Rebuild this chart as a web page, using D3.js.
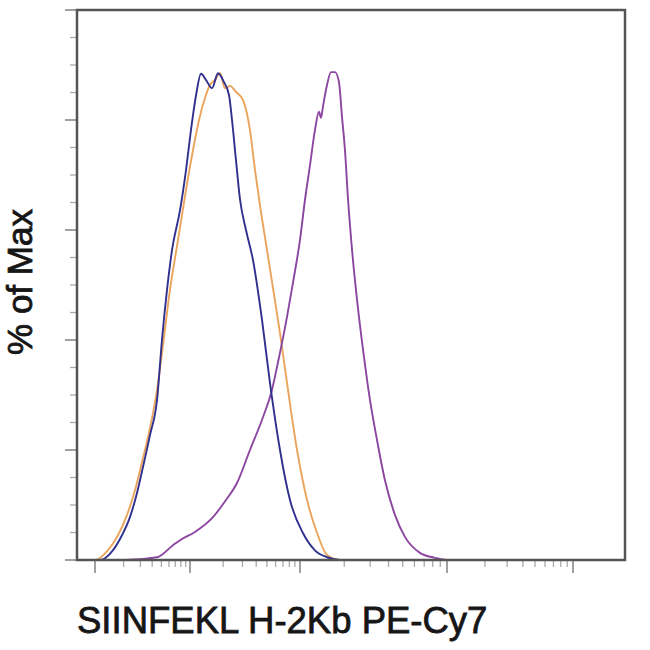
<!DOCTYPE html>
<html>
<head>
<meta charset="utf-8">
<script src="https://cdn.jsdelivr.net/npm/d3@7/dist/d3.min.js"></script>
<style>
  html, body { margin: 0; padding: 0; background: #fff; }
  svg { display: block; }
</style>
</head>
<body>
<svg id="chart" width="650" height="650"></svg>
<script>
// x values are in decade units of the biexponential axis (0 = zero, 1 = 10^3, 2 = 10^4, 3 = 10^5, -1 = -10^3)
// y values are % of Max
const blueX = [-1.19, -0.947, -0.81, -0.716, -0.632, -0.558, -0.495, -0.421, -0.347, -0.295, -0.242, -0.189, -0.105, -0.042, 0.009, 0.055, 0.1, 0.145, 0.2, 0.255, 0.309, 0.355, 0.382, 0.418, 0.455, 0.509, 0.573, 0.655, 0.727, 0.818, 0.909, 1.02, 1.10, 1.184, 1.272, 3.41];
const blueY = [0, 0, 1.8, 4.5, 7.8, 12.2, 16.9, 22.7, 29.1, 40.0, 49.1, 56.4, 63.6, 70.9, 78.2, 84.5, 88.4, 87.3, 85.8, 88.5, 86.9, 84.5, 80.0, 72.7, 65.5, 60.0, 54.5, 43.6, 32.2, 20.0, 10.9, 4.9, 1.8, 0.5, 0, 0];

const orangeX = [-1.19, -1.0, -0.863, -0.758, -0.663, -0.579, -0.505, -0.421, -0.347, -0.284, -0.211, -0.126, -0.042, 0.027, 0.082, 0.136, 0.182, 0.227, 0.273, 0.318, 0.364, 0.418, 0.482, 0.545, 0.591, 0.636, 0.7, 0.764, 0.818, 0.882, 0.973, 1.048, 1.116, 1.184, 1.272, 3.41];
const orangeY = [0, 0, 1.8, 4.5, 8.2, 12.7, 17.8, 24.0, 30.9, 39.1, 49.1, 58.2, 67.3, 74.5, 80.0, 84.0, 86.4, 87.3, 88.5, 85.8, 86.2, 85.1, 83.6, 78.2, 70.9, 64.5, 56.4, 48.2, 41.3, 32.2, 20.0, 10.9, 4.9, 0.9, 0, 0];

const purpleX = [-1.19, -0.684, -0.347, -0.179, -0.105, 0.045, 0.209, 0.327, 0.427, 0.545, 0.664, 0.745, 0.791, 0.882, 0.936, 1.0, 1.034, 1.068, 1.102, 1.129, 1.143, 1.156, 1.184, 1.211, 1.238, 1.265, 1.286, 1.306, 1.327, 1.354, 1.388, 1.429, 1.476, 1.524, 1.578, 1.646, 1.714, 1.816, 1.918, 2.0, 3.41];
const purpleY = [0, 0, 0.5, 2.7, 3.6, 5.1, 7.8, 10.9, 14.0, 20.0, 26.0, 30.9, 35.1, 44.2, 50.4, 58.2, 65.5, 71.8, 78.2, 81.5, 80.4, 82.4, 86.4, 88.7, 88.7, 86.9, 80.5, 74.5, 65.5, 56.4, 47.3, 38.2, 29.1, 21.8, 14.5, 8.2, 4.2, 1.3, 0.4, 0, 0];

const xMajorTicks = [-1, 0, 1, 2, 3];
const yMajorTicks = [0, 20, 40, 60, 80, 100];
const yMinorTicks = [5, 10, 15, 25, 30, 35, 45, 50, 55, 65, 70, 75, 85, 90, 95];
const minorMultipliers = [2, 3, 4, 5, 6, 7, 8, 9];

const xLabel = "SIINFEKL H-2Kb PE-Cy7";
const yLabel = "% of Max";

(function () {
const svg = d3.select("#chart");
const mLeft = 77, mRight = 625, mTop = 10, mBottom = 560;

// piecewise (biexponential-like) display scale
const x = d3.scaleLinear()
  .domain([-1.19, -1, 0, 1, 2, 3, 3.41])
  .range([mLeft, 95, 190, 300, 447, 573, mRight]);
const y = d3.scaleLinear().domain([0, 100]).range([mBottom, mTop]);

const xMinorTicks = [];
for (let k = -1; k <= 2; k++) {
  minorMultipliers.forEach(m => xMinorTicks.push(k + Math.log10(m)));
}

const tickColor = "#8a8a8a";
svg.append("g").selectAll("line").data(yMajorTicks).join("line")
  .attr("x1", mLeft - 12).attr("x2", mLeft)
  .attr("y1", d => y(d)).attr("y2", d => y(d))
  .attr("stroke", tickColor).attr("stroke-width", 1.6);
svg.append("g").selectAll("line").data(yMinorTicks).join("line")
  .attr("x1", mLeft - 7).attr("x2", mLeft)
  .attr("y1", d => y(d)).attr("y2", d => y(d))
  .attr("stroke", "#aaa").attr("stroke-width", 1.3);
svg.append("g").selectAll("line").data(xMajorTicks).join("line")
  .attr("x1", d => x(d)).attr("x2", d => x(d))
  .attr("y1", mBottom).attr("y2", mBottom + 13)
  .attr("stroke", tickColor).attr("stroke-width", 1.6);
svg.append("g").selectAll("line").data(xMinorTicks).join("line")
  .attr("x1", d => x(d)).attr("x2", d => x(d))
  .attr("y1", mBottom).attr("y2", mBottom + 7)
  .attr("stroke", "#aaa").attr("stroke-width", 1.3);

const series = [
  { xs: orangeX, ys: orangeY, color: "#eba45c" },
  { xs: purpleX, ys: purpleY, color: "#8b46a0" },
  { xs: blueX, ys: blueY, color: "#30308e" }
];
const line = d3.line()
  .x(d => x(d[0]))
  .y(d => y(d[1]))
  .curve(d3.curveMonotoneX);
svg.append("g").selectAll("path").data(series).join("path")
  .attr("d", s => line(s.xs.map((v, i) => [v, s.ys[i]])))
  .attr("fill", "none")
  .attr("stroke", s => s.color)
  .attr("stroke-width", 1.9)
  .attr("stroke-linejoin", "round");

svg.append("rect")
  .attr("x", mLeft).attr("y", mTop)
  .attr("width", mRight - mLeft).attr("height", mBottom - mTop)
  .attr("fill", "none").attr("stroke", "#555").attr("stroke-width", 2.5);

svg.append("text")
  .attr("x", 77).attr("y", 633)
  .attr("font-family", "Liberation Sans, Arial, sans-serif")
  .attr("font-size", 36.5)
  .attr("fill", "#161616")
  .attr("stroke", "#161616").attr("stroke-width", 0.8)
  .text(xLabel);
svg.append("text")
  .attr("transform", "translate(32,282) rotate(-90)")
  .attr("text-anchor", "middle")
  .attr("font-family", "Liberation Sans, Arial, sans-serif")
  .attr("font-size", 35)
  .attr("fill", "#161616")
  .attr("stroke", "#161616").attr("stroke-width", 0.8)
  .text(yLabel);
})();
</script>
</body>
</html>
